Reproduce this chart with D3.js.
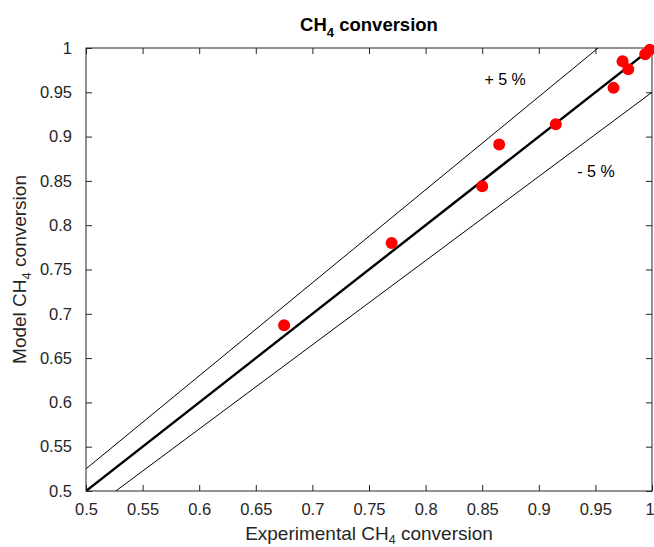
<!DOCTYPE html>
<html>
<head>
<meta charset="utf-8">
<script src="https://cdn.jsdelivr.net/npm/d3@7"></script>
<style>
  body { margin: 0; background: #fff; }
  svg { font-family: "Liberation Sans", Arial, sans-serif; }
</style>
</head>
<body>
<svg id="chart" width="654" height="547"></svg>
<script>
// measured vs model CH4 conversion
let experimental = [0.675, 0.770, 0.850, 0.865, 0.915, 0.966, 0.974, 0.979, 0.994, 0.998]
let model = [0.687, 0.780, 0.844, 0.891, 0.914, 0.955, 0.985, 0.976, 0.993, 0.998]
let tickValues = [0.5, 0.55, 0.6, 0.65, 0.7, 0.75, 0.8, 0.85, 0.9, 0.95, 1]
let parityFactors = [1, 1.05, 0.95]
let bandLabels = ['+ 5 %', '- 5 %']

let margin = {top: 48, right: 2, bottom: 56, left: 86}
let width = 654 - margin.left - margin.right
let height = 547 - margin.top - margin.bottom

let svg = d3.select('#chart')
let g = svg.append('g').attr('transform', `translate(${margin.left},${margin.top})`)

let x = d3.scaleLinear().domain([0.5, 1]).range([0, width])
let y = d3.scaleLinear().domain([0.5, 1]).range([height, 0])

let fmt = d => d3.format('')(d)

g.append('defs').append('clipPath').attr('id', 'clip')
    .append('rect').attr('width', width).attr('height', height)

let axisColor = '#262626'

let styleAxis = (sel) => {
    sel.select('.domain').remove()
    sel.selectAll('line').attr('stroke', axisColor)
    sel.selectAll('text')
        .attr('fill', axisColor)
        .style('font-size', '16.5px')
}

g.append('g').attr('class', 'xaxis').attr('transform', `translate(0,${height})`)
    .call(d3.axisBottom(x).tickValues(tickValues).tickFormat(fmt).tickSizeInner(-6).tickPadding(12))
    .call(styleAxis)
g.append('g')
    .call(d3.axisTop(x).tickValues(tickValues).tickFormat('').tickSizeInner(-6))
    .call(styleAxis)
g.append('g')
    .call(d3.axisLeft(y).tickValues(tickValues).tickFormat(fmt).tickSizeInner(-6).tickPadding(14))
    .call(styleAxis)
g.append('g').attr('transform', `translate(${width},0)`)
    .call(d3.axisRight(y).tickValues(tickValues).tickFormat('').tickSizeInner(-6))
    .call(styleAxis)

// last x tick label sits on the right edge
g.select('.xaxis').selectAll('g.tick text').filter((d) => d === 1)
    .attr('dx', '-0.15em')

// parity lines
let lineGen = d3.line().x(d => x(d[0])).y(d => y(d[1]))
let plotArea = g.append('g').attr('clip-path', 'url(#clip)')
plotArea.selectAll('path.parity')
    .data(parityFactors)
    .enter()
    .append('path')
    .attr('class', 'parity')
    .attr('fill', 'none')
    .attr('stroke', '#000')
    .attr('stroke-width', (f) => f === 1 ? 2.4 : 1)
    .attr('d', (f) => lineGen([[0.45, 0.45 * f], [1, f]]))

// box
g.append('rect')
    .attr('width', width).attr('height', height)
    .attr('fill', 'none').attr('stroke', axisColor).attr('stroke-width', 1)

// points
g.selectAll('circle.pt')
    .data(experimental)
    .enter()
    .append('circle')
    .attr('class', 'pt')
    .attr('cx', (d) => x(d))
    .attr('cy', (d, i) => y(model[i]))
    .attr('r', 6)
    .attr('fill', '#ff0000')

// band labels
g.append('text')
    .attr('x', x(0.852)).attr('y', y(0.958))
    .style('font-size', '16px').attr('fill', '#000')
    .text(bandLabels[0])
g.append('text')
    .attr('x', x(0.934)).attr('y', y(0.854))
    .style('font-size', '16px').attr('fill', '#000')
    .text(bandLabels[1])

// title
let title = svg.append('text')
    .attr('x', margin.left + width / 2).attr('y', 31)
    .attr('text-anchor', 'middle')
    .style('font-size', '18.5px').style('font-weight', 'bold')
    .attr('fill', '#000')
title.append('tspan').text('CH')
title.append('tspan').attr('dy', 6).style('font-size', '13px').text('4')
title.append('tspan').attr('dy', -6).text(' conversion')

// x label
let xl = svg.append('text')
    .attr('x', margin.left + width / 2).attr('y', 540)
    .attr('text-anchor', 'middle')
    .style('font-size', '19px').attr('fill', axisColor)
xl.append('tspan').text('Experimental CH')
xl.append('tspan').attr('dy', 4).style('font-size', '12.5px').text('4')
xl.append('tspan').attr('dy', -4).text(' conversion')

// y label
let yl = svg.append('text')
    .attr('transform', `translate(26,${margin.top + height / 2}) rotate(-90)`)
    .attr('text-anchor', 'middle')
    .style('font-size', '19px').attr('fill', axisColor)
yl.append('tspan').text('Model CH')
yl.append('tspan').attr('dy', 5).style('font-size', '13px').text('4')
yl.append('tspan').attr('dy', -5).text(' conversion')
</script>
</body>
</html>
